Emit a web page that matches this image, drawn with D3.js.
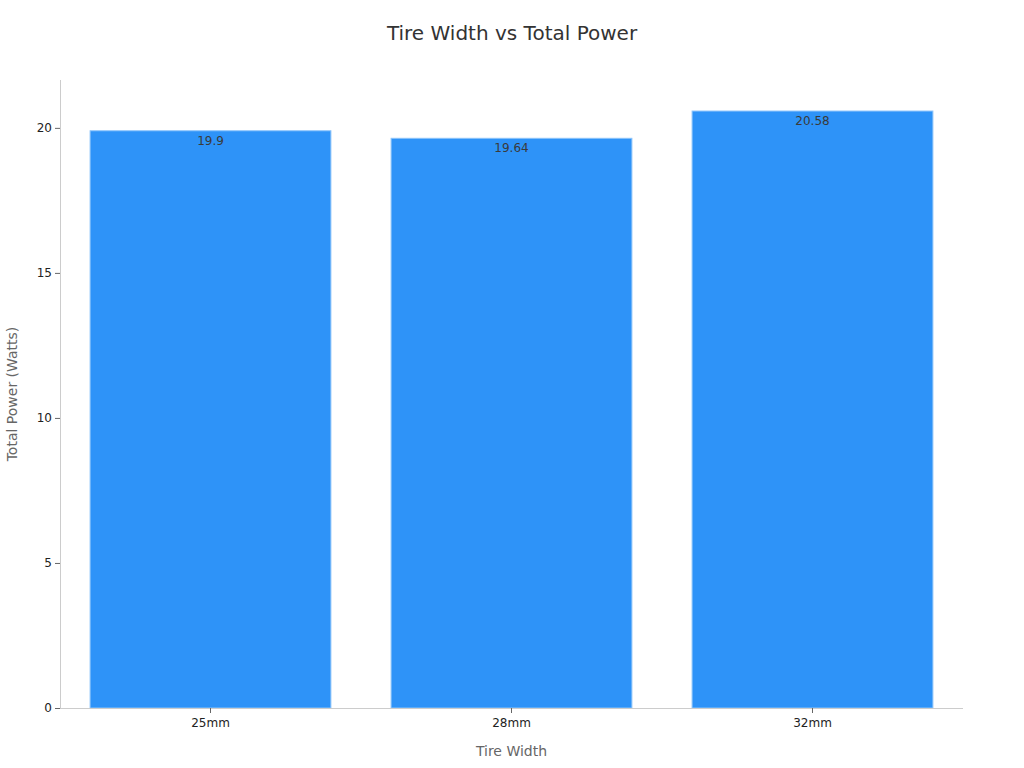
<!DOCTYPE html>
<html>
<head>
<meta charset="utf-8">
<script src="https://cdn.jsdelivr.net/npm/d3@7"></script>
<style>
  body { margin: 0; background: #fff; }
  svg { font-family: "DejaVu Sans", sans-serif; }
</style>
</head>
<body>
<svg width="1024" height="768"></svg>
<script>
// данные графика
const categories = ["25mm", "28mm", "32mm"];
const powerValues = [19.9, 19.64, 20.58];
const yTicks = [0, 5, 10, 15, 20];

const svg = d3.select("svg");

const area = {
    left: 60,
    right: 963,
    top: 80,
    bottom: 708
};

const scX = d3.scaleBand()
    .domain(categories)
    .range([area.left, area.right])
    .paddingInner(0.2)
    .paddingOuter(0.1);

const scY = d3.scaleLinear()
    .domain([0, 21.65])
    .range([area.bottom, area.top]);

// заголовок
svg.append("text")
    .attr("x", 512)
    .attr("y", 40)
    .attr("text-anchor", "middle")
    .style("font-size", "20px")
    .style("fill", "#333")
    .text("Tire Width vs Total Power");

// столбцы
svg.selectAll(".bar")
    .data(categories)
    .enter()
    .append("rect")
    .attr("x", d => scX(d))
    .attr("y", (d, i) => scY(powerValues[i]))
    .attr("width", scX.bandwidth())
    .attr("height", (d, i) => scY(0) - scY(powerValues[i]))
    .style("fill", "#2e93f8")
    .style("stroke", "#8cc4fb")
    .style("stroke-width", 1);

// подписи значений
svg.selectAll(".lbl")
    .data(categories)
    .enter()
    .append("text")
    .attr("x", d => scX(d) + scX.bandwidth() / 2)
    .attr("y", (d, i) => scY(powerValues[i]) + 14)
    .attr("text-anchor", "middle")
    .style("font-size", "12px")
    .style("fill", "#3a3a3a")
    .text((d, i) => powerValues[i]);

// оси
const axisX = svg.append("g")
    .attr("transform", `translate(0, ${area.bottom})`)
    .call(d3.axisBottom(scX).tickSize(5).tickSizeOuter(0));
axisX.select(".domain").attr("d", `M${area.left},0.5H${area.right}`);

const axisY = svg.append("g")
    .attr("transform", `translate(${area.left}, 0)`)
    .call(d3.axisLeft(scY).tickValues(yTicks).tickSize(5).tickSizeOuter(0));
axisY.select(".domain").attr("d", `M0.5,${area.bottom}V${area.top}`);

svg.selectAll(".domain").style("stroke", "#ccc");
svg.selectAll(".tick line").style("stroke", "#666");
svg.selectAll(".tick text")
    .style("font-size", "12px")
    .style("fill", "#222")
    .style("font-family", "DejaVu Sans, sans-serif");
axisX.selectAll(".tick text").attr("dy", "0.95em");

// названия осей
svg.append("text")
    .attr("x", (area.left + area.right) / 2)
    .attr("y", 756)
    .attr("text-anchor", "middle")
    .style("font-size", "14px")
    .style("fill", "#666")
    .text("Tire Width");

svg.append("text")
    .attr("transform", `translate(17, ${(area.top + area.bottom) / 2}) rotate(-90)`)
    .attr("text-anchor", "middle")
    .style("font-size", "14px")
    .style("fill", "#666")
    .text("Total Power (Watts)");
</script>
</body>
</html>
